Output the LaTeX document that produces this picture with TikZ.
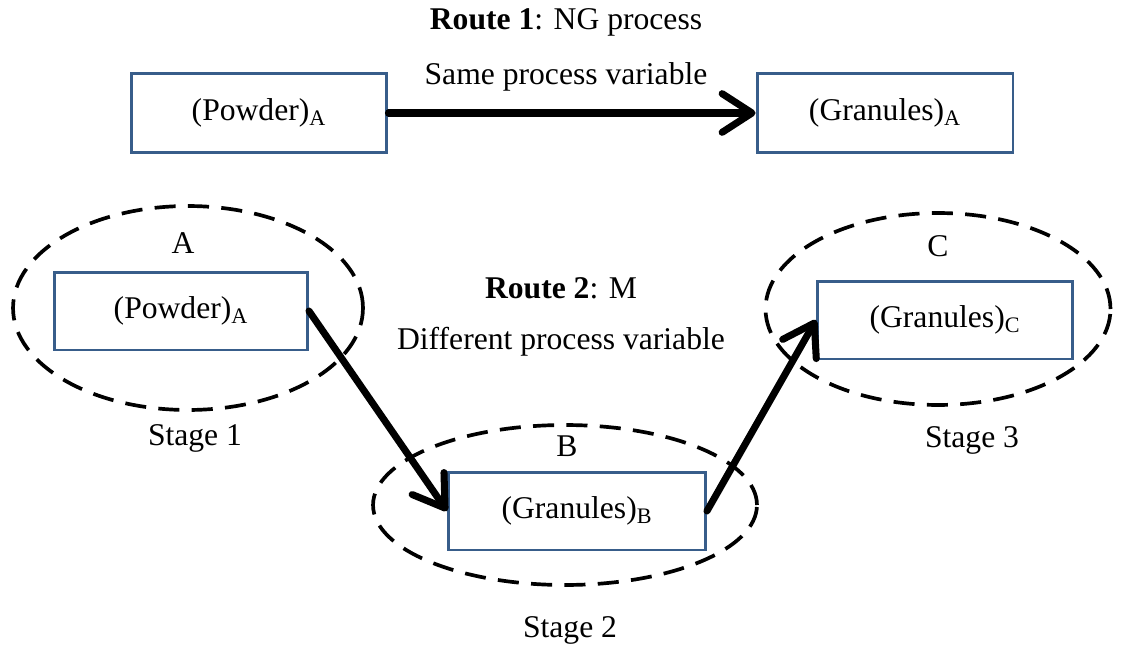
\documentclass[tikz,border=0pt]{standalone}
\usepackage{fontspec}
\setmainfont{Liberation Serif}
\usetikzlibrary{shapes.geometric,arrows.meta}
\definecolor{boxblue}{HTML}{385D8A}
\tikzset{
	phase/.style={draw=boxblue, line width=1.7pt, minimum width=5.12cm, minimum height=1.58cm, inner sep=0pt},
	stage/.style={draw, ellipse, dash pattern=on 12pt off 7pt, line width=2.1pt, inner sep=0pt},
	route/.style={line width=4pt, -{Straight Barb[length=17pt,width=22pt,round]}, line cap=round}
}
\begin{document}
\begin{tikzpicture}[x=0.02cm, y=-0.02cm, font=\fontsize{18}{22}\selectfont]
					\useasboundingbox (0,0) rectangle (1124,648);
					% dashed stage outlines
					\node[stage, minimum width=7cm, minimum height=4.08cm] (SA) at (188,308) {};
					\node[stage, minimum width=7.68cm, minimum height=3.2cm] (SB) at (565,505) {};
					\node[stage, minimum width=6.9cm, minimum height=3.84cm] (SC) at (938,309) {};

					\node (R1) at (566,22) {\textbf{Route 1}: NG process};
					\node (V1) at (566,77) {Same process variable};
					\node[phase] (P1) at (259,113) {(Powder)\textsubscript{A}};
					\node[phase] (G1) at (885,113) {(Granules)\textsubscript{A}};

					\node (LA) at (183,243) {A};
					\node (LB) at (567,446) {B};
					\node (LC) at (938,246) {C};
					\node (T1) at (195,438) {Stage 1};
					\node (T2) at (570,630) {Stage 2};
					\node (T3) at (972,440) {Stage 3};
					\node (R2) at (561,288) {\textbf{Route 2}: M};
					\node (V2) at (561,342) {Different process variable};

					\node[phase, minimum width=5.06cm, minimum height=1.56cm] (P2) at (181,311) {(Powder)\textsubscript{A}};
					\node[phase, minimum width=5.14cm, minimum height=1.56cm] (G2) at (577,511) {(Granules)\textsubscript{B}};
					\node[phase, minimum width=5.1cm, minimum height=1.56cm] (G3) at (945,320) {(Granules)\textsubscript{C}};


					\path [route] (P1) edge (G1);
					\path [route] (P2.east) edge (G2.west);
					\path [route] (G2.east) edge (G3.west);
				\end{tikzpicture}
\end{document}
